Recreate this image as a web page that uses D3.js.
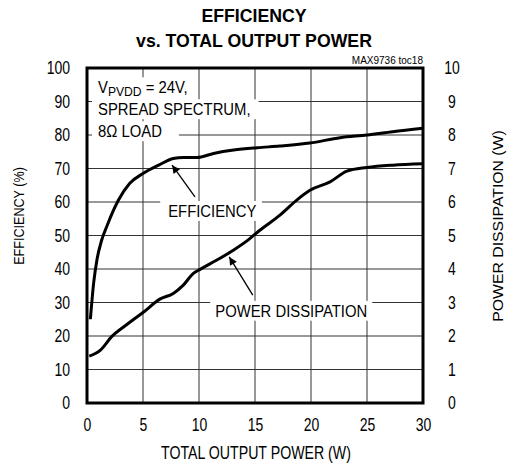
<!DOCTYPE html>
<html>
<head>
<meta charset="utf-8">
<script src="https://cdn.jsdelivr.net/npm/d3@7"></script>
<style>
  body { margin: 0; background: #fff; }
  text { font-family: "Liberation Sans", Arial, sans-serif; fill: #000; }
  .title { font-weight: bold; font-size: 17.7px; }
</style>
</head>
<body>
<div id="chart"></div>
<script>
// efficiency vs total output power (W, %)
var effOutput = [0.3, 0.6, 0.9, 1.3, 1.8, 2.8, 3.8, 5.0, 6.4, 7.7, 8.6, 9.8, 11.3, 13.1, 15.2, 17.2, 19.9, 22.6, 25, 27.3, 30];
var effValues = [25, 36, 43, 48.5, 53, 60.5, 65.5, 68.5, 71, 73, 73.3, 73.3, 74.5, 75.5, 76.2, 76.7, 77.6, 79.2, 80, 81, 82];

// power dissipation vs total output power (W, W)
var pdOutput = [0.2, 1.2, 2.2, 3.5, 5.0, 6.5, 7.7, 8.6, 9.5, 10.1, 11.6, 13.1, 14.4, 15.4, 17.2, 18.7, 19.9, 21.7, 23.2, 25, 27.3, 30];
var pdValues = [1.4, 1.58, 1.98, 2.33, 2.7, 3.1, 3.27, 3.52, 3.87, 3.99, 4.27, 4.57, 4.87, 5.15, 5.6, 6.05, 6.35, 6.6, 6.92, 7.03, 7.1, 7.14];

var xTicks = [0, 5, 10, 15, 20, 25, 30];
var effTicks = [0, 10, 20, 30, 40, 50, 60, 70, 80, 90, 100];
var pdTicks = [0, 1, 2, 3, 4, 5, 6, 7, 8, 9, 10];

var condLines = ["SPREAD SPECTRUM,", "8\u03A9 LOAD"];

// set the dimensions and margins of the graph
var margin = {top: 68, right: 84, bottom: 63, left: 87},
    width = 507 - margin.left - margin.right,
    height = 466 - margin.top - margin.bottom;

// text in the original is narrow, squeeze it sideways
var sq = 0.8;

var x = d3.scaleLinear().domain([0, 30]).range([0, width]);
var yEff = d3.scaleLinear().domain([0, 100]).range([height, 0]);
var yPd = d3.scaleLinear().domain([0, 10]).range([height, 0]);

var svg = d3.select("#chart").append("svg")
    .attr("width", 507)
    .attr("height", 466);

svg.append("rect").attr("width", 507).attr("height", 466).style("fill", "#fff");

// title
svg.append("text").attr("class", "title")
  .attr("x", 254).attr("y", 22).attr("text-anchor", "middle").text("EFFICIENCY");
svg.append("text").attr("class", "title")
  .attr("x", 254).attr("y", 47).attr("text-anchor", "middle").text("vs. TOTAL OUTPUT POWER");

var g = svg.append("g")
  .attr("transform", "translate(" + margin.left + "," + margin.top + ")");

// grid
g.selectAll(".vgrid")
  .data(xTicks.slice(1, -1))
  .enter().append("line")
    .attr("x1", function(d) { return x(d); })
    .attr("x2", function(d) { return x(d); })
    .attr("y1", 0).attr("y2", height)
    .style("stroke", "#333").style("stroke-width", 1);

g.selectAll(".hgrid")
  .data(effTicks.slice(1, -1))
  .enter().append("line")
    .attr("y1", function(d) { return yEff(d); })
    .attr("y2", function(d) { return yEff(d); })
    .attr("x1", 0).attr("x2", width)
    .style("stroke", "#333").style("stroke-width", 1);

// axes (labels only)
var axL = g.append("g").call(d3.axisLeft(yEff).tickValues(effTicks).tickSize(0).tickPadding(17 / sq));
var axR = g.append("g").attr("transform", "translate(" + width + ",0)")
  .call(d3.axisRight(yPd).tickValues(pdTicks).tickSize(0).tickPadding(29 / sq));
var axB = g.append("g").attr("transform", "translate(0," + height + ")")
  .call(d3.axisBottom(x).tickValues(xTicks).tickSize(0).tickPadding(16));
[axL, axR, axB].forEach(function(a) {
  a.select(".domain").remove();
  a.selectAll("text")
    .attr("transform", "scale(" + sq + ",1)")
    .style("font-size", "17.5px")
    .style("font-family", "\"Liberation Sans\", Arial, sans-serif");
});
axR.selectAll("text").attr("text-anchor", "middle");

// axis titles
svg.append("text")
  .attr("transform", "translate(256,459) scale(0.81,1)").attr("text-anchor", "middle")
  .style("font-size", "17.5px").text("TOTAL OUTPUT POWER (W)");
svg.append("text")
  .attr("transform", "translate(24,216) rotate(-90) scale(0.84,1)").attr("text-anchor", "middle")
  .style("font-size", "15px").text("EFFICIENCY (%)");
svg.append("text")
  .attr("transform", "translate(503,226) rotate(-90) scale(1,0.95)").attr("text-anchor", "middle")
  .style("font-size", "15.8px").text("POWER DISSIPATION (W)");

// part number
svg.append("text")
  .attr("x", 423).attr("y", 64).attr("text-anchor", "end")
  .style("font-size", "10px").text("MAX9736 toc18");

// labels with white backing
var lsq = 0.9;
function label(parent, px, py, build, padL, padR) {
  var lg = parent.append("g")
    .attr("transform", "translate(" + px + "," + py + ") scale(" + lsq + ",1)");
  var t = lg.append("text").style("font-size", "16.5px");
  build(t);
  var b = t.node().getBBox();
  lg.insert("rect", "text")
    .attr("x", b.x - padL / lsq).attr("y", b.y - 1)
    .attr("width", b.width + (padL + padR) / lsq).attr("height", b.height + 2)
    .style("fill", "#fff");
}

label(g, 11, 25, function(t) {
  t.append("tspan").text("V");
  t.append("tspan").attr("dy", 3).style("font-size", "13.5px").text("PVDD");
  t.append("tspan").attr("dy", -3).text(" = 24V,");
}, 6, 6);
label(g, 11, 47, function(t) { t.text(condLines[0]); }, 6, 8);
label(g, 11, 69, function(t) { t.text(condLines[1]); }, 6, 17);

label(g, x(7.25), yEff(55.6), function(t) { t.text("EFFICIENCY"); }, 8, 5);
label(g, x(11.45), yEff(25.8), function(t) { t.text("POWER DISSIPATION"); }, 5, 5);

// arrows
svg.append("defs").append("marker")
  .attr("id", "ah").attr("viewBox", "0 0 10 10")
  .attr("refX", 10).attr("refY", 5)
  .attr("markerWidth", 10).attr("markerHeight", 8)
  .attr("markerUnits", "userSpaceOnUse")
  .attr("orient", "auto")
  .append("path").attr("d", "M0,0L10,5L0,10z").style("fill", "#000");

var arrows = [
  {x1: 9.64, y1: 61.5, x2: 7.6, y2: 71},
  {x1: 14.8, y1: 32.2, x2: 12.7, y2: 43.6}
];
g.selectAll(".arrow")
  .data(arrows)
  .enter().append("line")
    .attr("x1", function(d) { return x(d.x1); })
    .attr("y1", function(d) { return yEff(d.y1); })
    .attr("x2", function(d) { return x(d.x2); })
    .attr("y2", function(d) { return yEff(d.y2); })
    .attr("marker-end", "url(#ah)")
    .style("stroke", "#000").style("stroke-width", 1.3);

// curves
var effLine = d3.line()
  .x(function(d, i) { return x(effOutput[i]); })
  .y(function(d) { return yEff(d); })
  .curve(d3.curveMonotoneX);
var pdLine = d3.line()
  .x(function(d, i) { return x(pdOutput[i]); })
  .y(function(d) { return yPd(d); })
  .curve(d3.curveMonotoneX);

g.append("path").datum(effValues).attr("d", effLine)
  .style("fill", "none").style("stroke", "#000").style("stroke-width", 3);
g.append("path").datum(pdValues).attr("d", pdLine)
  .style("fill", "none").style("stroke", "#000").style("stroke-width", 3);

// frame
g.append("rect").attr("width", width).attr("height", height)
  .style("fill", "none").style("stroke", "#000").style("stroke-width", 3);
</script>
</body>
</html>
